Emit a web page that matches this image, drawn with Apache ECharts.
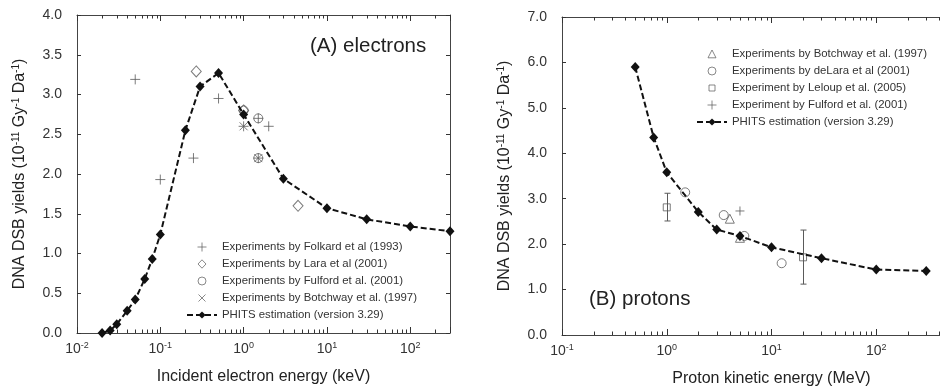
<!DOCTYPE html>
<html><head><meta charset="utf-8">
<script src="https://cdn.jsdelivr.net/npm/echarts@6/dist/echarts.min.js"></script>
<style>html,body{margin:0;padding:0;background:#fff}#c{width:940px;height:387px}</style>
</head><body><div id="c"></div>
<script>
// ---------- Panel A: electrons ----------
const phitsElecE = [0.02, 0.025, 0.03, 0.04, 0.05, 0.065, 0.08, 0.1, 0.2, 0.3, 0.5, 1, 3, 10, 30, 100, 300];
const phitsElecY = [0.0, 0.03, 0.11, 0.28, 0.42, 0.68, 0.93, 1.24, 2.55, 3.10, 3.27, 2.75, 1.94, 1.57, 1.43, 1.34, 1.28];
const folkardE = [0.05, 0.1, 0.25, 0.5, 1.0, 1.5, 1.5, 2.0];
const folkardY = [3.19, 1.93, 2.20, 2.95, 2.60, 2.70, 2.20, 2.60];
const laraE = [0.27, 1.0, 4.5];
const laraY = [3.29, 2.80, 1.60];
const fulfordAE = [1.0, 1.5, 1.5];
const fulfordAY = [2.80, 2.70, 2.20];
const botchwayAE = [1.0, 1.5];
const botchwayAY = [2.60, 2.20];
// ---------- Panel B: protons ----------
const phitsProtE = [0.5, 0.75, 1, 2, 3, 5, 10, 30, 100, 300];
const phitsProtY = [5.90, 4.35, 3.58, 2.71, 2.32, 2.18, 1.93, 1.69, 1.44, 1.41];
const botchwayBE = [4, 5];
const botchwayBY = [2.56, 2.14];
const delaraE = [1.5, 3.5, 5.5, 12.5];
const delaraY = [3.14, 2.64, 2.18, 1.58];
const leloupE = [1, 20];
const leloupY = [2.81, 1.71];
const leloupLow = [2.51, 1.12];
const leloupHigh = [3.12, 2.31];
const fulfordBE = [5];
const fulfordBY = [2.73];
// ---------- axes ----------
const xRangeA = [0.01, 300];
const yRangeA = [0, 4];
const yStepA = 0.5;
const xRangeB = [0.1, 1000];
const yRangeB = [0, 7];
const yStepB = 1;
const decadeExponentsA = [-2, -1, 0, 1, 2];
const decadeExponentsB = [-1, 0, 1, 2];
const minorMultipliers = [2, 3, 4, 5, 6, 7, 8, 9];

const legendA = ['Experiments by Folkard et al (1993)', 'Experiments by Lara et al (2001)',
  'Experiments by Fulford et al. (2001)', 'Experiments by Botchway et al. (1997)', 'PHITS estimation (version 3.29)'];
const legendB = ['Experiments by Botchway et al. (1997)', 'Experiments by deLara et al (2001)',
  'Experiment by Leloup et al. (2005)', 'Experiment by Fulford et al. (2001)', 'PHITS estimation (version 3.29)'];

const FONT = '"Liberation Sans", Arial, sans-serif';
const AXIS_COLOR = '#444';
const TICK_COLOR = '#333';
const TEXT_COLOR = '#222';
const MARK = '#5a5a5a';

const pts = (xs, ys) => xs.map((x, i) => [x, ys[i]]);
const PLUS = 'path://M5,0L5,10M0,5L10,5';
const CROSS = 'path://M0,0L10,10M0,10L10,0';
// legend icons drawn in a 30x9 box (corner moveTo points fix the box)
const BOX = 'M0,0M30,9';
const LG_PLUS = 'path://' + BOX + 'M15,0L15,9M10.5,4.5L19.5,4.5';
const LG_DIAMOND = 'path://' + BOX + 'M15,0.3L19,4.5L15,8.7L11,4.5Z';
const LG_CIRCLE = 'path://' + BOX + 'M19,4.5A4,4 0 1 1 11,4.5A4,4 0 1 1 19,4.5Z';
const LG_CROSS = 'path://' + BOX + 'M11.5,1L18.5,8M11.5,8L18.5,1';
const LG_TRIANGLE = 'path://' + BOX + 'M15,0.5L19,8.3L11,8.3Z';
const LG_RECT = 'path://' + BOX + 'M12,1.5L18,1.5L18,7.5L12,7.5Z';

function minorValues(exps, range) {
  const out = [];
  exps.forEach(e => minorMultipliers.forEach(m => {
    const v = m * Math.pow(10, e);
    if (v > range[0] && v < range[1]) out.push(v);
  }));
  return out;
}

function decadeLabel(v) {
  const e = Math.log10(v);
  const r = Math.round(e);
  if (Math.abs(e - r) > 1e-6) return '';
  return '{b|10}{s|' + r + '}';
}

const yName = '{b|DNA DSB yields (10}{s|-11}{b| Gy}{s|-1}{b| Da}{s|-1}{b|)}';
const richName = {
  b: { fontSize: 16, fontFamily: FONT, color: TEXT_COLOR, lineHeight: 18 },
  s: { fontSize: 10, fontFamily: FONT, color: TEXT_COLOR, verticalAlign: 'top', lineHeight: 10 }
};
const richTick = {
  b: { fontSize: 14, fontFamily: FONT, color: '#333', lineHeight: 16 },
  s: { fontSize: 9, fontFamily: FONT, color: '#333', verticalAlign: 'top', lineHeight: 9 }
};

function xAxisMain(grid, range, name) {
  return {
    gridIndex: grid, type: 'log', logBase: 10, min: range[0], max: range[1], position: 'bottom',
    name: name, nameLocation: 'middle', nameGap: 36,
    nameTextStyle: { fontSize: 16, fontFamily: FONT, color: TEXT_COLOR },
    axisLine: { show: true, onZero: false, lineStyle: { color: AXIS_COLOR, width: 1 } },
    axisTick: { show: true, inside: true, length: 6, lineStyle: { color: TICK_COLOR, width: 1 } },
    axisLabel: { formatter: decadeLabel, rich: richTick, margin: 8, showMaxLabel: true },
    splitLine: { show: false }, minorTick: { show: false }
  };
}
function xAxisTop(grid, range) {
  return {
    gridIndex: grid, type: 'log', logBase: 10, min: range[0], max: range[1], position: 'top',
    axisLine: { show: true, onZero: false, lineStyle: { color: AXIS_COLOR, width: 1 } },
    axisTick: { show: true, inside: true, length: 6, lineStyle: { color: TICK_COLOR, width: 1 } },
    axisLabel: { show: false }, splitLine: { show: false }
  };
}
function yAxisMain(grid, range, step) {
  return {
    gridIndex: grid, type: 'value', min: range[0], max: range[1], interval: step, position: 'left',
    name: yName, nameLocation: 'middle', nameGap: 48, nameTextStyle: { rich: richName },
    axisLine: { show: true, onZero: false, lineStyle: { color: AXIS_COLOR, width: 1 } },
    axisTick: { show: true, inside: true, length: 4, lineStyle: { color: TICK_COLOR, width: 1 } },
    axisLabel: { formatter: v => v.toFixed(1), fontSize: 14, fontFamily: FONT, color: '#333', margin: 15 },
    splitLine: { show: false }
  };
}
function yAxisRight(grid, range, step) {
  return {
    gridIndex: grid, type: 'value', min: range[0], max: range[1], interval: step, position: 'right',
    axisLine: { show: true, onZero: false, lineStyle: { color: AXIS_COLOR, width: 1 } },
    axisTick: { show: true, inside: true, length: 4, lineStyle: { color: TICK_COLOR, width: 1 } },
    axisLabel: { show: false }, splitLine: { show: false }
  };
}

function minorTickSeries(xi, yi, vals, yr) {
  return {
    type: 'custom', xAxisIndex: xi, yAxisIndex: yi, silent: true, z: 1, clip: false,
    data: vals.map(v => [v, yr[0]]), encode: { x: 0, y: 1 },
    renderItem: (params, api) => {
      const v = api.value(0);
      const b = api.coord([v, yr[0]]);
      const t = api.coord([v, yr[1]]);
      const x = Math.round(b[0]) + 0.5;
      return { type: 'group', children: [
        { type: 'line', shape: { x1: x, y1: b[1], x2: x, y2: b[1] - 3.5 }, style: { stroke: TICK_COLOR, lineWidth: 1 } },
        { type: 'line', shape: { x1: x, y1: t[1], x2: x, y2: t[1] + 3.5 }, style: { stroke: TICK_COLOR, lineWidth: 1 } }
      ] };
    }
  };
}

function scatter(name, xi, yi, data, symbol, size) {
  return {
    name: name, type: 'scatter', xAxisIndex: xi, yAxisIndex: yi, data: data,
    symbol: symbol, symbolSize: size, symbolKeepAspect: true, z: 3,
    itemStyle: { color: 'transparent', borderColor: MARK, borderWidth: 1 }
  };
}
function phits(name, xi, yi, data) {
  return {
    name: name, type: 'line', xAxisIndex: xi, yAxisIndex: yi, data: data,
    symbol: 'diamond', symbolSize: [9, 10], z: 4,
    lineStyle: { color: '#111', width: 2, type: [6, 3] },
    itemStyle: { color: '#111' }
  };
}

const errorBars = {
  type: 'custom', xAxisIndex: 2, yAxisIndex: 2, z: 2, silent: true,
  data: leloupE.map((x, i) => [x, leloupLow[i], leloupHigh[i]]),
  encode: { x: 0, y: [1, 2] },
  renderItem: (params, api) => {
    const lo = api.coord([api.value(0), api.value(1)]);
    const hi = api.coord([api.value(0), api.value(2)]);
    const x = Math.round(lo[0]) + 0.5;
    const st = { stroke: MARK, lineWidth: 1 };
    return { type: 'group', children: [
      { type: 'line', shape: { x1: x, y1: lo[1], x2: x, y2: hi[1] }, style: st },
      { type: 'line', shape: { x1: x - 3, y1: lo[1], x2: x + 3, y2: lo[1] }, style: st },
      { type: 'line', shape: { x1: x - 3, y1: hi[1], x2: x + 3, y2: hi[1] }, style: st }
    ] };
  }
};

const hollowIcon = { color: 'transparent', borderColor: MARK, borderWidth: 0.9 };
function legendItems(names, icons, prefix) {
  return names.map((n, i) => icons[i]
    ? { name: prefix + n, icon: icons[i], itemStyle: hollowIcon }
    : { name: prefix + n });
}

const legendCommon = {
  orient: 'vertical', itemWidth: 30, itemHeight: 9, itemGap: 3, selectedMode: false,
  textStyle: { fontSize: 11.4, fontFamily: FONT, color: '#333', lineHeight: 14 },
  formatter: n => n.replace(/^B\|/, '')
};

const option = {
  animation: false,
  backgroundColor: '#fff',
  grid: [
    { left: 77, top: 15, width: 373, height: 318, outerBoundsMode: 'none', containLabel: false },
    { left: 562, top: 17, width: 419, height: 318, outerBoundsMode: 'none', containLabel: false }
  ],
  xAxis: [
    xAxisMain(0, xRangeA, 'Incident electron energy (keV)'),
    xAxisTop(0, xRangeA),
    xAxisMain(1, xRangeB, 'Proton kinetic energy (MeV)'),
    xAxisTop(1, xRangeB)
  ],
  yAxis: [
    yAxisMain(0, yRangeA, yStepA),
    yAxisRight(0, yRangeA, yStepA),
    yAxisMain(1, yRangeB, yStepB),
    yAxisRight(1, yRangeB, yStepB)
  ],
  legend: [
    Object.assign({ left: 181, top: 235,
      data: legendItems(legendA, [LG_PLUS, LG_DIAMOND, LG_CIRCLE, LG_CROSS, null], '') }, legendCommon),
    Object.assign({ left: 691, top: 42,
      data: legendItems(legendB, [LG_TRIANGLE, LG_CIRCLE, LG_RECT, LG_PLUS, null], 'B|') }, legendCommon)
  ],
  graphic: [
    { type: 'text', left: 310, top: 36, style: { text: '(A) electrons', fontSize: 20.5, fontFamily: FONT, fill: TEXT_COLOR } },
    { type: 'text', left: 589, top: 289, style: { text: '(B) protons', fontSize: 20.5, fontFamily: FONT, fill: TEXT_COLOR } }
  ],
  series: [
    minorTickSeries(0, 0, minorValues(decadeExponentsA, xRangeA), yRangeA),
    minorTickSeries(2, 2, minorValues(decadeExponentsB, xRangeB), yRangeB),
    scatter(legendA[0], 0, 0, pts(folkardE, folkardY), PLUS, 10),
    scatter(legendA[1], 0, 0, pts(laraE, laraY), 'diamond', [10, 11]),
    scatter(legendA[2], 0, 0, pts(fulfordAE, fulfordAY), 'circle', 9),
    scatter(legendA[3], 0, 0, pts(botchwayAE, botchwayAY), CROSS, 8),
    phits(legendA[4], 0, 0, pts(phitsElecE, phitsElecY)),
    scatter('B|' + legendB[0], 2, 2, pts(botchwayBE, botchwayBY), 'triangle', 9),
    scatter('B|' + legendB[1], 2, 2, pts(delaraE, delaraY), 'circle', 9),
    scatter('B|' + legendB[2], 2, 2, pts(leloupE, leloupY), 'rect', 7),
    scatter('B|' + legendB[3], 2, 2, pts(fulfordBE, fulfordBY), PLUS, 9),
    errorBars,
    phits('B|' + legendB[4], 2, 2, pts(phitsProtE, phitsProtY))
  ]
};

const chart = echarts.init(document.getElementById('c'), null, { renderer: 'canvas' });
chart.setOption(option);
</script>
</body></html>
